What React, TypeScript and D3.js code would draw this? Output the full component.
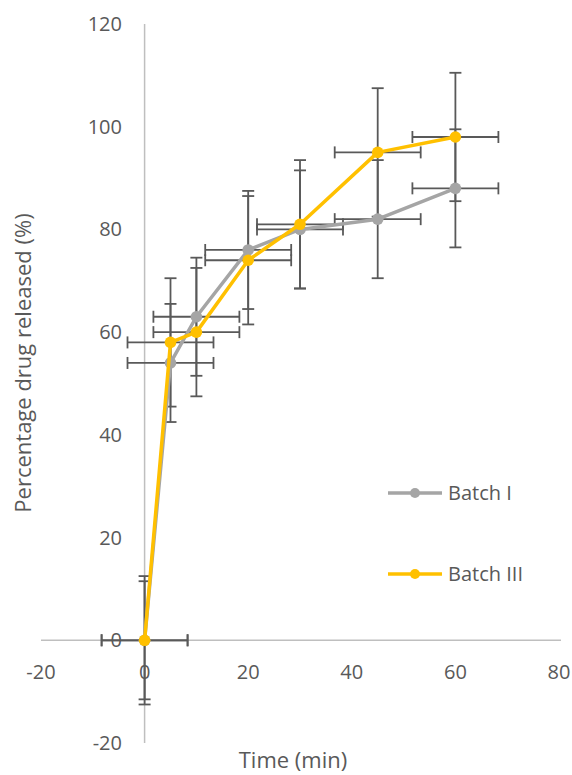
import React from "react";
import * as d3 from "d3";

// dissolution data
const times = [0, 5, 10, 20, 30, 45, 60];
const batchI = [0, 54, 63, 76, 80, 82, 88];
const batchIII = [0, 58, 60, 74, 81, 95, 98];
const batchIErr = [11.5, 11.5, 11.5, 11.5, 11.5, 11.5, 11.5];
const batchIIIErr = [12.5, 12.5, 12.5, 12.5, 12.5, 12.5, 12.5];
const timeErr = [8.3, 8.3, 8.3, 8.3, 8.3, 8.3, 8.3];
const xTicks = [-20, 0, 20, 40, 60, 80];
const yTicks = [-20, 0, 20, 40, 60, 80, 100, 120];

const series = [
  { name: "Batch I", values: batchI, err: batchIErr, color: "#A5A5A5" },
  { name: "Batch III", values: batchIII, err: batchIIIErr, color: "#FFC000" },
];

const W = 572;
const H = 775;
const font = "'Open Sans', sans-serif";
const textColor = "#595959";
const barColor = "#595959";

const App = () => {
  const x = d3.scaleLinear().domain([-20, 80]).range([41, 559]);
  const y = d3.scaleLinear().domain([-20, 120]).range([743, 24]);

  const line = d3
    .line<number>()
    .x((_, i) => x(times[i]))
    .y((d) => y(d));

  const cap = 6;

  return (
    <svg
      width={W}
      height={H}
      style={{ position: "absolute", left: 0, top: 0, background: "#fff" }}
    >
      {/* axes crossing at zero */}
      <line x1={x(-20)} x2={x(80) + 2} y1={y(0)} y2={y(0)} stroke="#BFBFBF" strokeWidth={1.5} />
      <line x1={x(0)} x2={x(0)} y1={y(120)} y2={y(-20)} stroke="#BFBFBF" strokeWidth={1.5} />

      {xTicks.map((t) => (
        <text
          key={"x" + t}
          x={x(t)}
          y={679}
          textAnchor="middle"
          fontFamily={font}
          fontSize={20}
          fill={textColor}
        >
          {t}
        </text>
      ))}
      {yTicks.map((t) => (
        <text
          key={"y" + t}
          x={122}
          y={y(t)}
          dy="0.35em"
          textAnchor="end"
          fontFamily={font}
          fontSize={20}
          fill={textColor}
        >
          {t}
        </text>
      ))}

      {/* error bars */}
      {series.map((s) =>
        s.values.map((v, i) => {
          const cx = x(times[i]);
          const cy = y(v);
          const x0 = x(times[i] - timeErr[i]);
          const x1 = x(times[i] + timeErr[i]);
          const y0 = y(v - s.err[i]);
          const y1 = y(v + s.err[i]);
          return (
            <g key={s.name + i} stroke={barColor} strokeWidth={1.8} fill="none">
              <line x1={cx} x2={cx} y1={y0} y2={y1} />
              <line x1={cx - cap} x2={cx + cap} y1={y0} y2={y0} />
              <line x1={cx - cap} x2={cx + cap} y1={y1} y2={y1} />
              <line x1={x0} x2={x1} y1={cy} y2={cy} />
              <line x1={x0} x2={x0} y1={cy - cap} y2={cy + cap} />
              <line x1={x1} x2={x1} y1={cy - cap} y2={cy + cap} />
            </g>
          );
        })
      )}

      {/* series */}
      {series.map((s) => (
        <g key={s.name}>
          <path d={line(s.values) || ""} fill="none" stroke={s.color} strokeWidth={3.5} strokeLinejoin="round" />
          {s.values.map((v, i) => (
            <circle key={i} cx={x(times[i])} cy={y(v)} r={5.8} fill={s.color} />
          ))}
        </g>
      ))}

      {/* legend */}
      {series.map((s, i) => {
        const ly = 493 + i * 81;
        return (
          <g key={"lg" + s.name}>
            <line x1={388} x2={442} y1={ly} y2={ly} stroke={s.color} strokeWidth={3.5} />
            <circle cx={415} cy={ly} r={5} fill={s.color} />
            <text x={448} y={ly} dy="0.35em" fontFamily={font} fontSize={20} fill={textColor}>
              {s.name}
            </text>
          </g>
        );
      })}

      {/* axis titles */}
      <text x={293} y={768} textAnchor="middle" fontFamily={font} fontSize={22} fill={textColor}>
        Time (min)
      </text>
      <text
        transform={`translate(31,${363}) rotate(-90)`}
        textAnchor="middle"
        fontFamily={font}
        fontSize={22}
        fill={textColor}
      >
        Percentage drug released (%)
      </text>
    </svg>
  );
};

export default App;
